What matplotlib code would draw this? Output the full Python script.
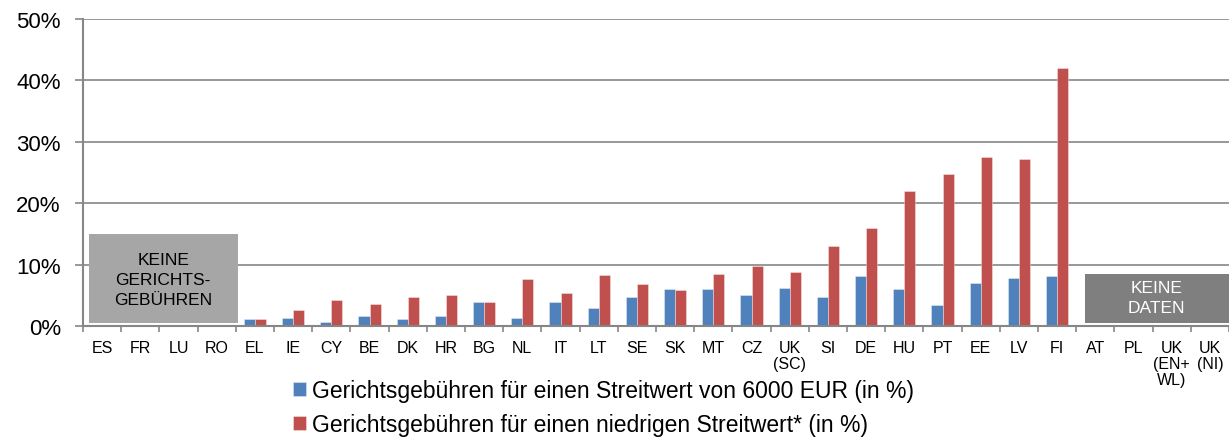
import matplotlib
matplotlib.use("Agg")
import matplotlib.pyplot as plt
from matplotlib.patches import Rectangle
import numpy as np

# Daten
laender = ["ES", "FR", "LU", "RO", "EL", "IE", "CY", "BE", "DK", "HR",
           "BG", "NL", "IT", "LT", "SE", "SK", "MT", "CZ", "UK\n(SC)", "SI",
           "DE", "HU", "PT", "EE", "LV", "FI", "AT", "PL", "UK\n(EN+\nWL)", "UK\n(NI)"]
gebuehr_6000 = [0, 0, 0, 0, 1.1, 1.3, 0.7, 1.6, 1.1, 1.7,
                3.9, 1.3, 3.9, 2.9, 4.8, 6.0, 6.1, 5.0, 6.2, 4.7,
                8.1, 6.0, 3.4, 7.0, 7.8, 8.2, 0, 0, 0, 0]
gebuehr_niedrig = [0, 0, 0, 0, 1.1, 2.6, 4.3, 3.6, 4.8, 5.0,
                   3.9, 7.6, 5.4, 8.3, 6.9, 5.9, 8.5, 9.7, 8.8, 13.0,
                   16.0, 22.0, 24.8, 27.6, 27.2, 42.0, 0, 0, 0, 0]
y_ticks = [0, 10, 20, 30, 40, 50]
legende = ["Gerichtsgebühren für einen Streitwert von 6000 EUR (in %)",
           "Gerichtsgebühren für einen niedrigen Streitwert* (in %)"]

plt.rcParams['font.family'] = ['Liberation Sans', 'DejaVu Sans']

grau = '#868686'
blau = '#4F81BD'
rot = '#C0504D'

fig = plt.figure(figsize=(12.29, 4.39), dpi=100)
ax = fig.add_axes([83 / 1229, 1 - 327 / 439, 1 - 83 / 1229, (327 - 20) / 439])

x = np.arange(len(laender))
w = 0.29
b1 = ax.bar(x - w / 2, gebuehr_6000, w, color=blau,
            edgecolor=(1, 1, 1, 0.5), linewidth=0.5, zorder=3)
b2 = ax.bar(x + w / 2, gebuehr_niedrig, w, color=rot,
            edgecolor=(1, 1, 1, 0.5), linewidth=0.5, zorder=3)

ax.set_xlim(-0.5, len(laender) - 0.5)
ax.set_ylim(0, 50)

# Achsen
ax.set_yticks(y_ticks)
ax.set_yticklabels([f"{v}%" for v in y_ticks], fontsize=16)
ax.tick_params(axis='y', length=6, width=1.2, color=grau, pad=10)
ax.yaxis.grid(True, color=grau, linewidth=1.2, zorder=0)
ax.set_axisbelow(True)

ax.set_xticks(np.arange(len(laender) + 1) - 0.5)
ax.set_xticklabels([])
ax.tick_params(axis='x', which='major', length=4, width=1.2, color=grau)
ax.set_xticks(x, minor=True)
ax.set_xticklabels(laender, minor=True, fontsize=11.5, va='top',
                   linespacing=1.1)
ax.tick_params(axis='x', which='minor', length=0, pad=10)

for s in ['top', 'right']:
    ax.spines[s].set_visible(False)
for s in ['left', 'bottom']:
    ax.spines[s].set_color(grau)
    ax.spines[s].set_linewidth(1.5)
    ax.spines[s].set_zorder(4)

# Kästen
ax.add_patch(Rectangle((-0.34, 0.45), 3.89, 14.55, facecolor='#A6A6A6',
                       edgecolor='none', zorder=2))
ax.text(1.6, 7.6, "KEINE\nGERICHTS-\nGEBÜHREN", ha='center', va='center',
        fontsize=12.5, color='black', linespacing=1.4, zorder=5)
ax.add_patch(Rectangle((25.73, 0.55), 4.5, 8.0, facecolor='#7F7F7F',
                       edgecolor='none', zorder=2, clip_on=True))
ax.text(27.6, 4.6, "KEINE\nDATEN", ha='center', va='center',
        fontsize=12.5, color='white', linespacing=1.4, zorder=5)

fig.legend([b1, b2], legende, loc='center left',
           bbox_to_anchor=(293 / 1229, 1 - 408.5 / 439),
           frameon=False, fontsize=16.5, handlelength=0.55, handleheight=0.55,
           handletextpad=0.3, labelspacing=0.5, borderpad=0, borderaxespad=0)

fig.savefig("out.png", dpi=100)
